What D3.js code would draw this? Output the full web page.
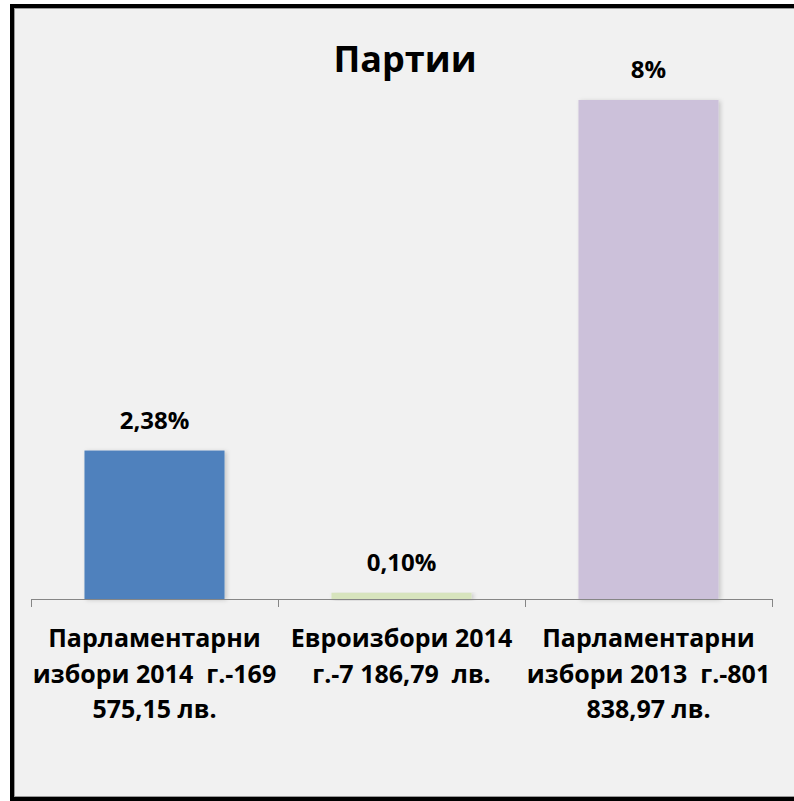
<!DOCTYPE html>
<html>
<head>
<meta charset="utf-8">
<script src="https://cdn.jsdelivr.net/npm/d3@7"></script>
<style>
  html, body { margin: 0; padding: 0; background: #fff; overflow: hidden; }
  svg { display: block; }
  text { font-family: "Open Sans", Lato, sans-serif; font-weight: bold; fill: #000; white-space: pre; }
</style>
</head>
<body>
<div class="chart"></div>
<script>
var svgWidth = 794;
var svgHeight = 801;

// chart data
var title = "Партии";
var categories = [
  ["Парламентарни", "избори 2014  г.-169", "575,15 лв."],
  ["Евроизбори 2014", "г.-7 186,79  лв."],
  ["Парламентарни", "избори 2013  г.-801", "838,97 лв."]
];
var values = [2.38, 0.10, 8];
var valueLabels = ["2,38%", "0,10%", "8%"];
var colors = ["#4f81bd", "#d7e4bd", "#ccc1da"];

var plot = { left: 31, right: 772, top: 100, bottom: 599 };

var svg = d3.select(".chart")
  .append("svg")
  .attr("width", svgWidth)
  .attr("height", svgHeight);

// soft shadow under the bars
var defs = svg.append("defs");
defs.append("filter")
  .attr("id", "shadow")
  .attr("x", "-10%").attr("y", "-10%")
  .attr("width", "130%").attr("height", "130%")
  .append("feDropShadow")
  .attr("dx", 2).attr("dy", 1)
  .attr("stdDeviation", 2)
  .attr("flood-color", "#000")
  .attr("flood-opacity", 0.18);

// chart area with black frame (right side runs off the picture)
svg.append("rect")
  .attr("x", 12)
  .attr("y", 6)
  .attr("width", 1000)
  .attr("height", 793)
  .attr("fill", "#f1f1f1")
  .attr("stroke", "#000")
  .attr("stroke-width", 4);
svg.append("rect")
  .attr("x", 14.5)
  .attr("y", 8.5)
  .attr("width", 1000)
  .attr("height", 788)
  .attr("fill", "none")
  .attr("stroke", "#9a9a9a")
  .attr("stroke-width", 1);

var x = d3.scaleBand()
  .domain(d3.range(values.length))
  .range([plot.left, plot.right])
  .paddingInner(0.433)
  .paddingOuter(0.2165);

var y = d3.scaleLinear()
  .domain([0, 8])
  .range([plot.bottom, plot.top]);

// bars
svg.selectAll(".bar")
  .data(values)
  .enter().append("rect")
  .attr("class", "bar")
  .attr("x", (d, i) => x(i))
  .attr("y", d => y(d))
  .attr("width", x.bandwidth())
  .attr("height", d => y(0) - y(d))
  .attr("fill", (d, i) => colors[i])
  .attr("filter", "url(#shadow)");

// value labels
svg.selectAll(".val")
  .data(values)
  .enter().append("text")
  .attr("class", "val")
  .attr("x", (d, i) => x(i) + x.bandwidth() / 2)
  .attr("y", d => y(d) - 22)
  .attr("text-anchor", "middle")
  .attr("font-size", "24px")
  .text((d, i) => valueLabels[i]);

// x axis line and ticks at category boundaries
var axis = svg.append("g").attr("class", "x-axis");
axis.append("line")
  .attr("x1", plot.left).attr("x2", plot.right)
  .attr("y1", plot.bottom + 0.5).attr("y2", plot.bottom + 0.5)
  .attr("stroke", "#868686");
axis.selectAll(".tick")
  .data(d3.range(values.length + 1))
  .enter().append("line")
  .attr("class", "tick")
  .attr("x1", i => Math.round(plot.left + i * x.step()) + 0.5)
  .attr("x2", i => Math.round(plot.left + i * x.step()) + 0.5)
  .attr("y1", plot.bottom)
  .attr("y2", plot.bottom + 8)
  .attr("stroke", "#868686");

// category labels
var cat = svg.selectAll(".cat")
  .data(categories)
  .enter().append("text")
  .attr("class", "cat")
  .attr("text-anchor", "middle")
  .attr("font-size", "25px");
cat.selectAll("tspan")
  .data((d, i) => d.map(s => ({ s: s, i: i })))
  .enter().append("tspan")
  .attr("x", d => x(d.i) + x.bandwidth() / 2)
  .attr("y", (d, j) => 647 + j * 35.5)
  .text(d => d.s);

// title
svg.append("text")
  .attr("x", 405)
  .attr("y", 72)
  .attr("text-anchor", "middle")
  .attr("font-size", "36px")
  .text(title);
</script>
</body>
</html>
